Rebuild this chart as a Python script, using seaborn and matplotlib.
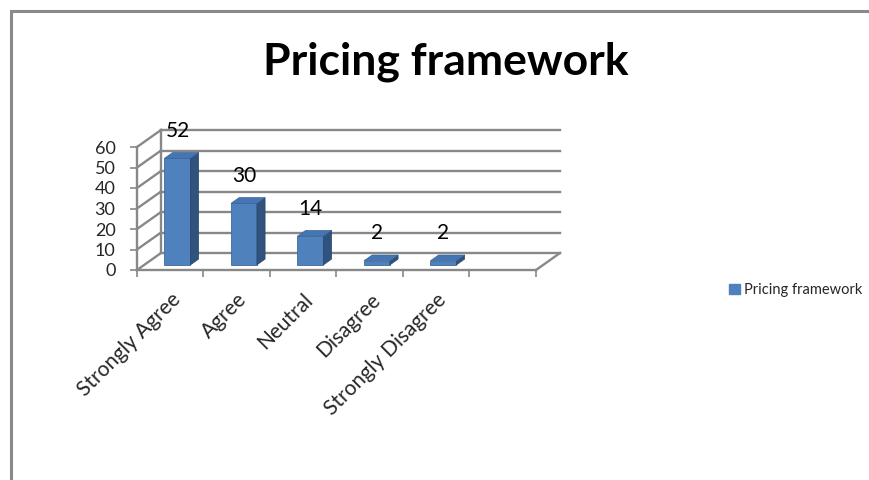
import numpy as np
import pandas as pd
import matplotlib
matplotlib.use("Agg")
import matplotlib.pyplot as plt
from matplotlib.patches import Polygon, Patch
from matplotlib.lines import Line2D
from matplotlib.transforms import ScaledTranslation
import seaborn as sns

# ---- data ----
categories = ["Strongly Agree", "Agree", "Neutral", "Disagree", "Strongly Disagree"]
values = [52, 30, 14, 2, 2]
series_name = "Pricing framework"
chart_title = "Pricing framework"
y_ticks = [0, 10, 20, 30, 40, 50, 60]

sns.set_style("white")
plt.rcParams["font.family"] = ["Lato", "DejaVu Sans"]

W, H = 870, 480
fig = plt.figure(figsize=(W / 100, H / 100), dpi=100)
fig.patch.set_facecolor("white")

# front plane of the axes (pixels)
L, R, B, T = 137, 536, 270, 147
ax = fig.add_axes([L / W, 1 - B / H, (R - L) / W, (B - T) / H])
ax.patch.set_alpha(0)

FRONT = "#4F81BD"
SIDE = "#30527D"
TOP = "#4576B3"
GRID = "#888888"

df = pd.DataFrame({"category": categories, "value": values})
sns.barplot(data=df, x="category", y="value", ax=ax, color=FRONT, width=0.39,
            edgecolor="#3F6A9C", linewidth=0.6, zorder=3, saturation=1)

n_slots = len(categories) + 1
ax.set_xlim(-0.5, n_slots - 0.5)
ax.set_ylim(0, y_ticks[-1])

# depth offsets in data units
DXP, DYP = 24, 17
ux = (R - L) / n_slots
uy = (B - T) / y_ticks[-1]
ddx, ddy = DXP / ux, DYP / uy
x0, x1 = -0.5, n_slots - 0.5

lkw = dict(color=GRID, lw=1.7, clip_on=False, zorder=1, solid_capstyle="projecting")
# back wall grid lines + left wall + floor
for v in y_ticks:
    ax.plot([x0 + ddx, x1 + ddx], [v + ddy, v + ddy], **lkw)
    ax.plot([x0, x0 + ddx], [v, v + ddy], **lkw)
ax.plot([x0 + ddx, x0 + ddx], [ddy, y_ticks[-1] + ddy], **lkw)
ax.plot([x0, x0], [0, y_ticks[-1]], **lkw)
ax.plot([x0, x1], [0, 0], **lkw)
ax.plot([x1, x1 + ddx], [0, ddy], **lkw)

# 3-D bars
f0, fd = 0.3, 0.34
bars = list(ax.patches)
for p, v in zip(bars, values):
    x = p.get_x() + f0 * ddx
    w = p.get_width()
    h = p.get_height()
    y = f0 * ddy
    p.set_x(x)
    p.set_y(y)
    p.set_clip_on(False)
    bx, by = fd * ddx, fd * ddy
    side = Polygon([(x + w, y), (x + w + bx, y + by), (x + w + bx, y + h + by), (x + w, y + h)],
                   closed=True, facecolor=SIDE, edgecolor="#284570", lw=0.5, zorder=3, clip_on=False)
    top = Polygon([(x, y + h), (x + bx, y + h + by), (x + w + bx, y + h + by), (x + w, y + h)],
                  closed=True, facecolor=TOP, edgecolor="#3A6496", lw=0.5, zorder=3, clip_on=False)
    ax.add_patch(side)
    ax.add_patch(top)
    ax.annotate(str(v), xy=(x + w / 2, y + h), xytext=(0, 27.5), textcoords="offset pixels",
                ha="center", va="center", fontsize=15, color="black", annotation_clip=False)

for s in ax.spines.values():
    s.set_visible(False)

ax.set_yticks(y_ticks)
ax.set_yticklabels([str(v) for v in y_ticks])
ax.tick_params(axis="y", left=True, length=5, width=1.2, color=GRID, pad=10.5, labelsize=13)

ax.set_xticks(range(len(categories)))
ax.set_xticklabels(categories, rotation=45, ha="right", va="center", rotation_mode="anchor")
ax.set_xticks(np.arange(x0, x1 + 0.01, 1.0), minor=True)
ax.tick_params(axis="x", which="major", bottom=True, length=0, pad=19, labelsize=15)
ax.tick_params(axis="x", which="minor", bottom=True, length=5, width=1.2, color=GRID)
shift = ScaledTranslation(7 / 100, 0, fig.dpi_scale_trans)
for lab in ax.get_xticklabels():
    lab.set_transform(lab.get_transform() + shift)
ax.set_xlabel("")
ax.set_ylabel("")

# legend
fig.legend(handles=[Patch(facecolor=FRONT, edgecolor=FRONT)], labels=[series_name],
           loc="center left", bbox_to_anchor=(729 / W, 1 - 290 / H), frameon=False,
           handlelength=0.75, handleheight=0.75, handletextpad=0.3, borderpad=0,
           borderaxespad=0, fontsize=10.5)

# title
fig.text(446 / W, 1 - 74 / H, chart_title, ha="center", va="baseline", fontsize=32,
         fontweight="bold", color="black")

# chart border (cropped on right/bottom)
fig.add_artist(Line2D([11.5 / W, 11.5 / W, 1.0], [0.0, 1 - 10.5 / H, 1 - 10.5 / H],
                      transform=fig.transFigure, color="#8A8A8A", lw=2.2,
                      solid_joinstyle="miter"))

fig.savefig("out.png", dpi=100)
